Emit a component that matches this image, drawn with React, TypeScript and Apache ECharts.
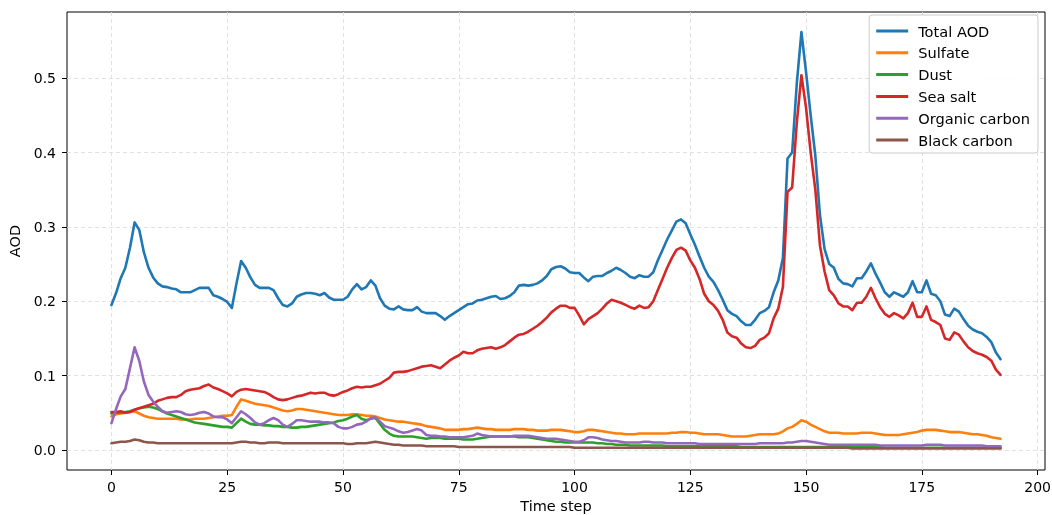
import React, { useEffect, useRef } from "react";
import * as echarts from "echarts";

const timeSteps: number[] = Array.from({ length: 193 }, (_, i) => i);

const totalAOD = [
  0.195, 0.211, 0.231, 0.245, 0.272, 0.306, 0.296, 0.266, 0.245, 0.232,
  0.224, 0.220, 0.219, 0.217, 0.216, 0.212, 0.212, 0.212, 0.215, 0.218,
  0.218, 0.218, 0.208, 0.206, 0.203, 0.199, 0.191, 0.224, 0.254, 0.245,
  0.232, 0.222, 0.218, 0.218, 0.218, 0.215, 0.204, 0.195, 0.193, 0.197,
  0.206, 0.209, 0.211, 0.211, 0.210, 0.208, 0.211, 0.205, 0.202, 0.202,
  0.202, 0.206, 0.216, 0.223, 0.216, 0.219, 0.228, 0.221, 0.204, 0.194,
  0.190, 0.189, 0.193, 0.189, 0.188, 0.188, 0.192, 0.186, 0.184, 0.184,
  0.184, 0.180, 0.175, 0.180, 0.184, 0.188, 0.192, 0.196, 0.197, 0.201,
  0.202, 0.204, 0.206, 0.207, 0.203, 0.204, 0.207, 0.212, 0.221, 0.222,
  0.221, 0.222, 0.224, 0.228, 0.234, 0.243, 0.246, 0.247, 0.244, 0.239,
  0.238, 0.238, 0.232, 0.227, 0.233, 0.234, 0.234, 0.238, 0.241, 0.245,
  0.242, 0.238, 0.233, 0.231, 0.235, 0.233, 0.233, 0.239, 0.255, 0.269,
  0.283, 0.295, 0.307, 0.310, 0.305, 0.290, 0.276, 0.260, 0.245, 0.233,
  0.226, 0.215, 0.202, 0.188, 0.183, 0.180, 0.173, 0.168, 0.168, 0.175,
  0.184, 0.187, 0.192, 0.212, 0.228, 0.258, 0.392, 0.400, 0.493, 0.562,
  0.508, 0.450, 0.396, 0.316, 0.270, 0.250, 0.245, 0.230, 0.224, 0.223,
  0.220, 0.231, 0.231, 0.240, 0.251, 0.237, 0.225, 0.212, 0.206, 0.212,
  0.209, 0.206, 0.212, 0.227, 0.212, 0.212, 0.228, 0.210, 0.208, 0.200,
  0.182, 0.180, 0.190, 0.186, 0.176, 0.167, 0.162, 0.159, 0.157, 0.152,
  0.145, 0.131, 0.122,
];

const sulfate = [
  0.045, 0.048, 0.049, 0.050, 0.051, 0.052, 0.049, 0.046, 0.044, 0.043,
  0.042, 0.042, 0.042, 0.042, 0.042, 0.041, 0.041, 0.041, 0.042, 0.042,
  0.042, 0.043, 0.044, 0.045, 0.046, 0.046, 0.047, 0.058, 0.068, 0.066,
  0.064, 0.062, 0.061, 0.060, 0.059, 0.057, 0.055, 0.053, 0.052, 0.053,
  0.055, 0.055, 0.054, 0.053, 0.052, 0.051, 0.050, 0.049, 0.048, 0.047,
  0.047, 0.047, 0.048, 0.048, 0.047, 0.046, 0.046, 0.045, 0.043, 0.041,
  0.040, 0.039, 0.038, 0.038, 0.037, 0.036, 0.035, 0.034, 0.032, 0.031,
  0.030, 0.029, 0.027, 0.027, 0.027, 0.027, 0.028, 0.028, 0.029, 0.030,
  0.029, 0.028, 0.028, 0.027, 0.027, 0.027, 0.027, 0.028, 0.028, 0.028,
  0.027, 0.027, 0.026, 0.026, 0.026, 0.027, 0.027, 0.027, 0.026, 0.025,
  0.024, 0.024, 0.025, 0.027, 0.027, 0.026, 0.025, 0.024, 0.023, 0.022,
  0.022, 0.021, 0.021, 0.021, 0.022, 0.022, 0.022, 0.022, 0.022, 0.022,
  0.022, 0.023, 0.023, 0.024, 0.024, 0.023, 0.023, 0.022, 0.021, 0.021,
  0.021, 0.021, 0.020, 0.019, 0.018, 0.018, 0.018, 0.018, 0.019, 0.020,
  0.021, 0.021, 0.021, 0.021, 0.022, 0.025, 0.029, 0.031, 0.035, 0.040,
  0.038, 0.034, 0.031, 0.028, 0.025, 0.023, 0.023, 0.023, 0.022, 0.022,
  0.022, 0.022, 0.023, 0.023, 0.023, 0.022, 0.021, 0.020, 0.020, 0.020,
  0.020, 0.021, 0.022, 0.023, 0.024, 0.026, 0.027, 0.027, 0.027, 0.026,
  0.025, 0.024, 0.024, 0.024, 0.023, 0.022, 0.021, 0.021, 0.020, 0.019,
  0.017, 0.016, 0.015,
];

const dust = [
  0.049, 0.050, 0.050, 0.051, 0.052, 0.054, 0.056, 0.057, 0.058, 0.057,
  0.055, 0.052, 0.049, 0.047, 0.045, 0.043, 0.041, 0.039, 0.037, 0.036,
  0.035, 0.034, 0.033, 0.032, 0.031, 0.031, 0.030, 0.036, 0.042, 0.038,
  0.035, 0.034, 0.034, 0.033, 0.033, 0.032, 0.032, 0.031, 0.031, 0.030,
  0.030, 0.031, 0.031, 0.032, 0.033, 0.034, 0.035, 0.036, 0.037, 0.039,
  0.040, 0.042, 0.045, 0.047, 0.042, 0.040, 0.042, 0.043, 0.035, 0.027,
  0.022, 0.019, 0.018, 0.018, 0.018, 0.018, 0.017, 0.016, 0.015, 0.016,
  0.016, 0.016, 0.015, 0.015, 0.015, 0.015, 0.014, 0.014, 0.014, 0.015,
  0.016, 0.017, 0.018, 0.018, 0.018, 0.018, 0.018, 0.018, 0.017, 0.017,
  0.017, 0.016, 0.015, 0.014, 0.013, 0.012, 0.011, 0.011, 0.010, 0.010,
  0.010, 0.010, 0.010, 0.010, 0.010, 0.009, 0.009, 0.008, 0.008, 0.007,
  0.007, 0.007, 0.006, 0.006, 0.006, 0.006, 0.006, 0.006, 0.006, 0.006,
  0.005, 0.005, 0.005, 0.005, 0.005, 0.005, 0.005, 0.005, 0.005, 0.005,
  0.005, 0.005, 0.005, 0.005, 0.005, 0.005, 0.004, 0.004, 0.004, 0.004,
  0.004, 0.004, 0.004, 0.004, 0.004, 0.004, 0.004, 0.004, 0.004, 0.004,
  0.004, 0.004, 0.004, 0.004, 0.004, 0.004, 0.004, 0.004, 0.004, 0.004,
  0.004, 0.004, 0.004, 0.004, 0.004, 0.004, 0.004, 0.003, 0.003, 0.003,
  0.003, 0.003, 0.003, 0.003, 0.003, 0.003, 0.003, 0.003, 0.003, 0.003,
  0.003, 0.003, 0.003, 0.003, 0.003, 0.003, 0.003, 0.003, 0.003, 0.003,
  0.003, 0.003, 0.003,
];

const seaSalt = [
  0.051, 0.051, 0.052, 0.050, 0.051, 0.054, 0.056, 0.058, 0.060, 0.062,
  0.066, 0.068, 0.070, 0.071, 0.071, 0.074, 0.079, 0.081, 0.082, 0.083,
  0.086, 0.088, 0.084, 0.082, 0.079, 0.076, 0.072, 0.078, 0.081, 0.082,
  0.081, 0.080, 0.079, 0.078, 0.075, 0.071, 0.068, 0.067, 0.068, 0.070,
  0.072, 0.073, 0.075, 0.077, 0.076, 0.077, 0.077, 0.074, 0.073, 0.075,
  0.078, 0.080, 0.083, 0.085, 0.084, 0.085, 0.085, 0.087, 0.089, 0.093,
  0.097, 0.104, 0.105, 0.105, 0.106, 0.108, 0.110, 0.112, 0.113, 0.114,
  0.112, 0.110, 0.115, 0.120, 0.124, 0.127, 0.132, 0.130, 0.130, 0.134,
  0.136, 0.137, 0.138, 0.136, 0.138, 0.141, 0.146, 0.151, 0.155, 0.156,
  0.159, 0.163, 0.167, 0.172, 0.178, 0.185, 0.190, 0.194, 0.194, 0.191,
  0.191, 0.181, 0.169, 0.176, 0.180, 0.184, 0.190, 0.197, 0.202, 0.200,
  0.198, 0.195, 0.192, 0.190, 0.194, 0.191, 0.192, 0.200, 0.215, 0.230,
  0.245, 0.258, 0.269, 0.272, 0.268, 0.255, 0.245, 0.230, 0.210, 0.200,
  0.195, 0.187, 0.175, 0.158, 0.153, 0.151, 0.143, 0.138, 0.137, 0.140,
  0.148, 0.151, 0.157, 0.177, 0.190, 0.219, 0.347, 0.353, 0.440, 0.504,
  0.460, 0.400, 0.350, 0.275, 0.240, 0.215, 0.208, 0.197, 0.193, 0.193,
  0.188, 0.198, 0.198, 0.206, 0.218, 0.204, 0.192, 0.183, 0.179, 0.184,
  0.181, 0.177, 0.184, 0.198, 0.179, 0.179, 0.193, 0.175, 0.172, 0.168,
  0.150, 0.148, 0.158, 0.155, 0.146, 0.138, 0.133, 0.130, 0.128, 0.125,
  0.120, 0.108, 0.101,
];

const organicCarbon = [
  0.036, 0.055, 0.072, 0.082, 0.110, 0.138, 0.120, 0.092, 0.074, 0.065,
  0.058, 0.052, 0.050, 0.051, 0.052, 0.051, 0.048, 0.047, 0.048, 0.050,
  0.051, 0.049, 0.045, 0.044, 0.044, 0.041, 0.036, 0.044, 0.052, 0.048,
  0.043, 0.037, 0.034, 0.036, 0.040, 0.043, 0.040, 0.034, 0.031, 0.035,
  0.040, 0.040, 0.039, 0.038, 0.038, 0.038, 0.037, 0.037, 0.036, 0.031,
  0.029, 0.029, 0.031, 0.034, 0.035, 0.038, 0.043, 0.044, 0.038, 0.032,
  0.030, 0.028, 0.025, 0.023, 0.024, 0.026, 0.028, 0.026, 0.020, 0.019,
  0.019, 0.018, 0.018, 0.017, 0.017, 0.017, 0.017, 0.018, 0.019, 0.022,
  0.020, 0.019, 0.018, 0.018, 0.018, 0.018, 0.018, 0.019, 0.019, 0.019,
  0.019, 0.018, 0.017, 0.016, 0.015, 0.015, 0.015, 0.014, 0.013, 0.012,
  0.011, 0.011, 0.013, 0.017, 0.017, 0.016, 0.014, 0.013, 0.012, 0.012,
  0.011, 0.010, 0.010, 0.010, 0.010, 0.011, 0.011, 0.010, 0.010, 0.010,
  0.009, 0.009, 0.009, 0.009, 0.009, 0.009, 0.009, 0.008, 0.008, 0.008,
  0.008, 0.008, 0.008, 0.008, 0.008, 0.008, 0.008, 0.008, 0.008, 0.008,
  0.009, 0.009, 0.009, 0.009, 0.009, 0.009, 0.010, 0.010, 0.011, 0.012,
  0.012, 0.011, 0.010, 0.009, 0.008, 0.007, 0.007, 0.007, 0.007, 0.007,
  0.007, 0.007, 0.007, 0.007, 0.007, 0.007, 0.006, 0.006, 0.006, 0.006,
  0.006, 0.006, 0.006, 0.006, 0.006, 0.006, 0.007, 0.007, 0.007, 0.007,
  0.006, 0.006, 0.006, 0.006, 0.006, 0.006, 0.006, 0.006, 0.006, 0.005,
  0.005, 0.005, 0.005,
];

const blackCarbon = [
  0.009, 0.010, 0.011, 0.011, 0.012, 0.014, 0.013, 0.011, 0.010, 0.010,
  0.009, 0.009, 0.009, 0.009, 0.009, 0.009, 0.009, 0.009, 0.009, 0.009,
  0.009, 0.009, 0.009, 0.009, 0.009, 0.009, 0.009, 0.010, 0.011, 0.011,
  0.010, 0.010, 0.009, 0.009, 0.010, 0.010, 0.010, 0.009, 0.009, 0.009,
  0.009, 0.009, 0.009, 0.009, 0.009, 0.009, 0.009, 0.009, 0.009, 0.009,
  0.009, 0.008, 0.008, 0.009, 0.009, 0.009, 0.010, 0.011, 0.010, 0.009,
  0.008, 0.007, 0.007, 0.006, 0.006, 0.006, 0.006, 0.006, 0.005, 0.005,
  0.005, 0.005, 0.005, 0.005, 0.005, 0.004, 0.004, 0.004, 0.004, 0.004,
  0.004, 0.004, 0.004, 0.004, 0.004, 0.004, 0.004, 0.004, 0.004, 0.004,
  0.004, 0.004, 0.004, 0.004, 0.004, 0.004, 0.004, 0.004, 0.004, 0.004,
  0.003, 0.003, 0.003, 0.003, 0.003, 0.003, 0.003, 0.003, 0.003, 0.003,
  0.003, 0.003, 0.003, 0.003, 0.003, 0.003, 0.003, 0.003, 0.003, 0.003,
  0.003, 0.003, 0.003, 0.003, 0.003, 0.003, 0.003, 0.003, 0.003, 0.003,
  0.003, 0.003, 0.003, 0.003, 0.003, 0.003, 0.003, 0.003, 0.003, 0.003,
  0.003, 0.003, 0.003, 0.003, 0.003, 0.003, 0.003, 0.003, 0.003, 0.003,
  0.003, 0.003, 0.003, 0.003, 0.003, 0.003, 0.003, 0.003, 0.003, 0.003,
  0.002, 0.002, 0.002, 0.002, 0.002, 0.002, 0.002, 0.002, 0.002, 0.002,
  0.002, 0.002, 0.002, 0.002, 0.002, 0.002, 0.002, 0.002, 0.002, 0.002,
  0.002, 0.002, 0.002, 0.002, 0.002, 0.002, 0.002, 0.002, 0.002, 0.002,
  0.002, 0.002, 0.002,
];

const seriesNames = ["Total AOD", "Sulfate", "Dust", "Sea salt", "Organic carbon", "Black carbon"];
const seriesColors = ["#1f77b4", "#ff7f0e", "#2ca02c", "#d62728", "#9467bd", "#8c564b"];
const seriesValues = [totalAOD, sulfate, dust, seaSalt, organicCarbon, blackCarbon];

const xTicks = [0, 25, 50, 75, 100, 125, 150, 175, 200];
const yTicks = [0, 0.1, 0.2, 0.3, 0.4, 0.5];

const FONT = "DejaVu Sans";

export default function App() {
  const ref = useRef<HTMLDivElement>(null);

  useEffect(() => {
    document.body.style.margin = "0";
    const chart = echarts.init(ref.current as HTMLDivElement, null, { renderer: "svg" });

    const series = seriesNames.map((name, k) => ({
      name,
      type: "line",
      data: seriesValues[k].map((v, i) => [timeSteps[i], v]),
      showSymbol: false,
      symbol: "none",
      lineStyle: { color: seriesColors[k], width: 2.6, join: "round", cap: "round" },
      itemStyle: { color: seriesColors[k] },
      emphasis: { disabled: true },
    }));

    const splitLine = {
      show: true,
      lineStyle: { type: [4, 3], color: "#dddddd", width: 0.9 },
    };

    chart.setOption({
      animation: false,
      grid: {
        left: 67,
        right: 7,
        top: 12,
        bottom: 45,
        show: true,
        borderColor: "#000",
        borderWidth: 1,
        backgroundColor: "transparent",
        containLabel: false,
        outerBoundsMode: "none",
      },
      xAxis: {
        type: "value",
        min: -9.6,
        max: 201.6,
        name: "Time step",
        nameLocation: "middle",
        nameGap: 28,
        nameTextStyle: { fontFamily: FONT, fontSize: 14.5, color: "#000" },
        axisLine: { show: false, onZero: false },
        axisTick: { show: true, length: 5, customValues: xTicks, lineStyle: { color: "#000" } },
        axisLabel: {
          customValues: xTicks,
          color: "#000",
          fontFamily: FONT,
          fontSize: 14,
          margin: 10,
          showMinLabel: true,
          showMaxLabel: true,
        },
        splitLine,
      },
      yAxis: {
        type: "value",
        min: -0.027,
        max: 0.589,
        name: "AOD",
        nameLocation: "middle",
        nameGap: 43,
        nameTextStyle: { fontFamily: FONT, fontSize: 14.5, color: "#000" },
        axisLine: { show: false, onZero: false },
        axisTick: { show: true, length: 5, customValues: yTicks, lineStyle: { color: "#000" } },
        axisLabel: {
          customValues: yTicks,
          color: "#000",
          fontFamily: FONT,
          fontSize: 14,
          margin: 11,
          formatter: (v: number) => v.toFixed(1),
        },
        splitLine,
      },
      legend: {
        data: seriesNames,
        orient: "vertical",
        right: 14,
        top: 15,
        backgroundColor: "rgba(255,255,255,0.85)",
        borderColor: "#cccccc",
        borderWidth: 1,
        borderRadius: 3,
        padding: [8, 8, 5, 7],
        icon: "rect",
        itemWidth: 32,
        itemHeight: 3,
        itemGap: 5.8,
        selectedMode: false,
        textStyle: { fontFamily: FONT, fontSize: 14.6, color: "#000", lineHeight: 16, padding: [0, 0, 0, 5] },
      },
      series,
    });

    return () => {
      chart.dispose();
    };
  }, []);

  return (
    <div
      ref={ref}
      style={{ position: "fixed", left: 0, top: 0, width: 1052, height: 515 }}
    />
  );
}
